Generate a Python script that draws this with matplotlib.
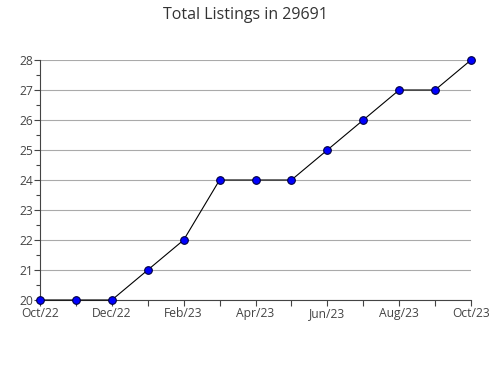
import matplotlib.pyplot as plt
from matplotlib.ticker import MultipleLocator

months = ["Oct/22", "Nov/22", "Dec/22", "Jan/23", "Feb/23", "Mar/23", "Apr/23",
          "May/23", "Jun/23", "Jul/23", "Aug/23", "Sep/23", "Oct/23"]
listings = [20, 20, 20, 21, 22, 24, 24, 24, 25, 26, 27, 27, 28]

plt.rcParams['font.family'] = ['Open Sans', 'DejaVu Sans']

fig = plt.figure(figsize=(4.9, 3.8), dpi=100)
ax = fig.add_axes([40 / 490, 80 / 380, 431 / 490, 240 / 380])

x = list(range(len(months)))
ax.plot(x, listings, color='black', linewidth=0.8, marker='o', markersize=5.5,
        markerfacecolor='#0000ff', markeredgecolor='#000040', markeredgewidth=0.8,
        zorder=3, clip_on=False)

ax.set_xlim(0, len(months) - 1)
ax.set_ylim(20, 28)
ax.set_xticks(x)
ax.set_xticklabels([m if i % 2 == 0 else "" for i, m in enumerate(months)])
ax.yaxis.set_major_locator(MultipleLocator(1))
ax.yaxis.set_minor_locator(MultipleLocator(0.5))

ax.grid(axis='y', color='#aaaaaa', linewidth=0.8)
ax.set_axisbelow(True)
for s in ['top', 'right']:
    ax.spines[s].set_visible(False)
for s in ['left', 'bottom']:
    ax.spines[s].set_color('#444444')
    ax.spines[s].set_linewidth(0.8)

ax.tick_params(axis='both', labelsize=8.7, colors='#444444', length=4, width=0.8, pad=1)
ax.tick_params(axis='y', which='minor', length=3, width=0.8, colors='#444444')

fig.text(0.5, 1 - 15 / 380, "Total Listings in 29691", ha='center', va='center',
         fontsize=11.5, color='#333333')

fig.savefig('out.png', dpi=100)
